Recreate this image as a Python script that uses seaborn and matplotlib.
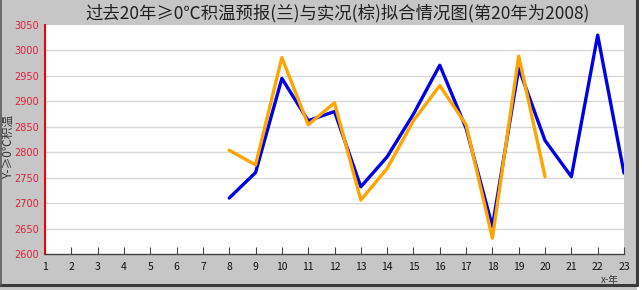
import matplotlib
matplotlib.use("Agg")
import matplotlib.pyplot as plt
import seaborn as sns
import pandas as pd
from matplotlib.patches import Rectangle
from matplotlib.ticker import MultipleLocator

# Data
years_fc = list(range(8, 24))
forecast = [2710, 2760, 2945, 2862, 2880, 2732, 2791, 2875, 2971, 2847, 2654, 2965, 2823, 2752, 3030, 2759]
years_obs = list(range(8, 21))
observed = [2804, 2775, 2986, 2854, 2897, 2706, 2768, 2862, 2931, 2854, 2631, 2989, 2752]
x_ticks = list(range(1, 24))
y_ticks = list(range(2600, 3051, 50))

title = "过去20年≥0℃积温预报(兰)与实况(棕)拟合情况图(第20年为2008)"
ylabel = "Y-≥0℃积温"
xlabel = "x-年"

sns.set_style("white")
plt.rcParams['font.family'] = ['Noto Sans CJK SC', 'DejaVu Sans']

W, H = 642, 290
fig = plt.figure(figsize=(W / 100, H / 100), dpi=100)
fig.patch.set_facecolor("white")

# outer gray panel with dark border (shadow on right/bottom)
bg = Rectangle((0, 0), 637 / W, 1, transform=fig.transFigure, facecolor="#c6c6c6",
               edgecolor="none", zorder=-10)
fig.add_artist(bg)
fig.add_artist(plt.Line2D([637 / W, 637 / W], [1 - 285 / H, 1], transform=fig.transFigure,
                          color="#3a3a3a", lw=2.2))
fig.add_artist(plt.Line2D([0, 637 / W], [1 - 285 / H, 1 - 285 / H], transform=fig.transFigure,
                          color="#3a3a3a", lw=2.2))
fig.add_artist(plt.Line2D([0.5 / W, 0.5 / W], [1 - 285 / H, 1], transform=fig.transFigure,
                          color="#5a5a5a", lw=1.2))

left, right, top, bottom = 45, 624, 25, 254
ax = fig.add_axes([left / W, 1 - bottom / H, (right - left) / W, (bottom - top) / H])
ax.set_facecolor("white")

df_fc = pd.DataFrame({"x": years_fc, "y": forecast})
df_obs = pd.DataFrame({"x": years_obs, "y": observed})
sns.lineplot(data=df_fc, x="x", y="y", ax=ax, color="#0000e6", lw=2.4, zorder=3)
sns.lineplot(data=df_obs, x="x", y="y", ax=ax, color="#ffa500", lw=2.4, zorder=4)

ax.set_xlim(1, 23)
ax.set_ylim(2600, 3050)
ax.set_xticks(x_ticks)
ax.set_yticks(y_ticks)
ax.yaxis.set_minor_locator(MultipleLocator(10))
for yv in y_ticks[1:-1]:
    ax.axhline(yv, color="#d8d8d8", lw=1.0, zorder=1)

for s in ["top", "right"]:
    ax.spines[s].set_visible(False)
ax.spines["left"].set_color("#ff0000")
ax.spines["left"].set_linewidth(1.5)
ax.spines["bottom"].set_color("#444444")
ax.spines["bottom"].set_linewidth(1.0)

ax.tick_params(axis="y", which="major", direction="in", length=5, color="#ff0000",
               labelcolor="#e0203a", labelsize=7, pad=4.5)
ax.tick_params(axis="y", which="minor", direction="in", length=3, color="#ff0000")
ax.tick_params(axis="x", which="major", direction="in", length=5, color="#444444",
               labelcolor="#111111", labelsize=7.5, pad=6, bottom=True)
for lab in ax.get_yticklabels():
    lab.set_family("DejaVu Sans")
ax.set_xlabel("")
ax.set_ylabel("")

fig.text(338 / W, 1 - 13 / H, title, ha="center", va="center", fontsize=12.5, color="#202020")
fig.text(8 / W, 1 - 146 / H, ylabel, ha="center", va="center", rotation=90,
         fontsize=8.5, color="#333333")
fig.text(610 / W, 1 - 280 / H, xlabel, ha="center", va="center", fontsize=7, color="#333333")

fig.savefig("out.png", dpi=100)
